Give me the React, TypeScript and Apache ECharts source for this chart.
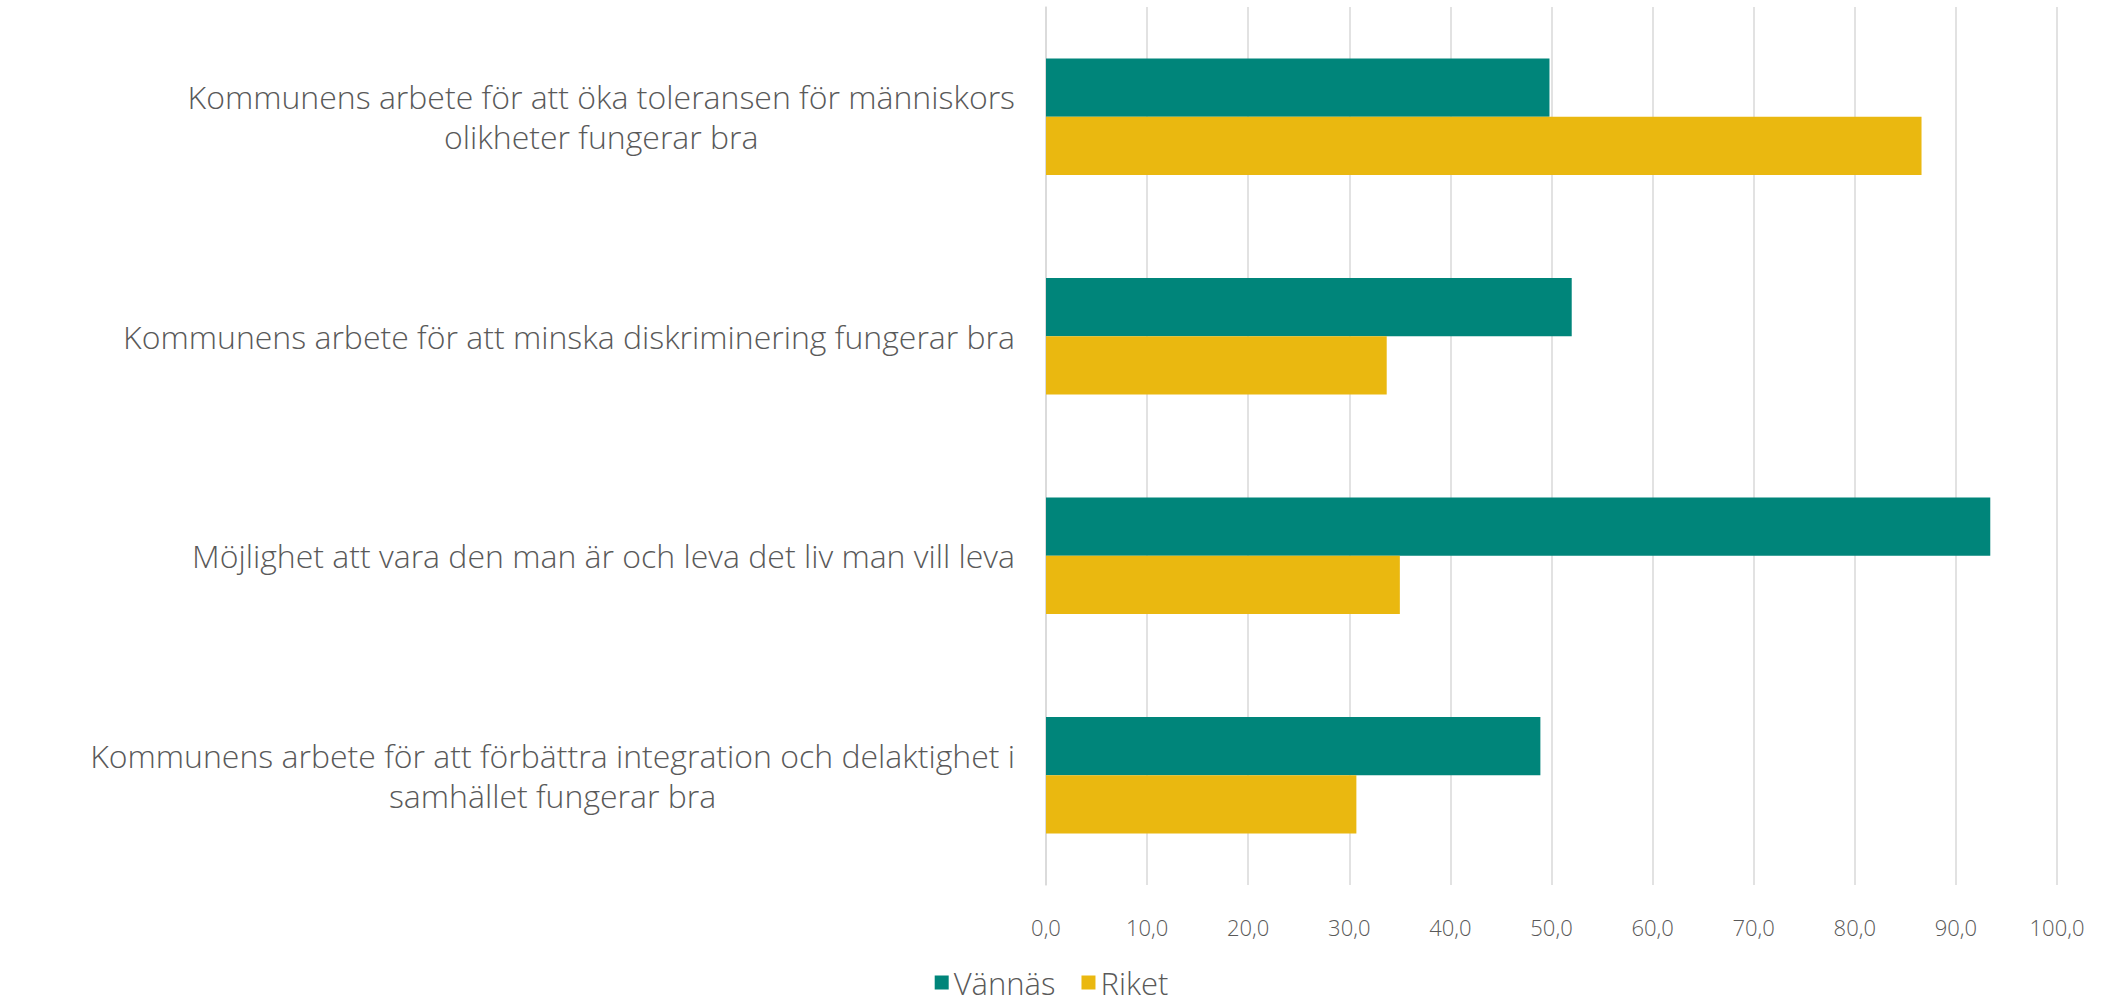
import React, { useEffect, useRef } from "react";
import * as echarts from "echarts";

const categories = [
  "Kommunens arbete för att öka toleransen för människors\nolikheter fungerar bra",
  "Kommunens arbete för att minska diskriminering fungerar bra",
  "Möjlighet att vara den man är och leva det liv man vill leva",
  "Kommunens arbete för att förbättra integration och delaktighet i\nsamhället fungerar bra",
];
const seriesNames = ["Vännäs", "Riket"];
const vannas = [49.8, 52.0, 93.4, 48.9];
const riket = [86.6, 33.7, 35.0, 30.7];

const FONT = "'Open Sans', Lato, sans-serif";
const TEXT = "#595959";
const GRID = "#D9D9D9";

export default function App() {
  const ref = useRef<HTMLDivElement>(null);
  useEffect(() => {
    if (!ref.current) return;
    const chart = echarts.init(ref.current, null, { renderer: "svg" });
    chart.setOption({
      animation: false,
      backgroundColor: "#ffffff",
      textStyle: { fontFamily: FONT },
      grid: { left: 1046, right: 46, top: 7, bottom: 120, containLabel: false },
      legend: {
        bottom: 2,
        left: "center",
        icon: "rect",
        itemWidth: 14,
        itemHeight: 14,
        itemGap: 26,
        textStyle: { fontFamily: FONT, fontSize: 31, color: TEXT, fontWeight: 300 },
        data: seriesNames,
      },
      xAxis: {
        type: "value",
        min: 0,
        max: 100,
        interval: 10,
        axisLine: { show: false },
        axisTick: { show: false },
        splitLine: { show: true, lineStyle: { color: GRID, width: 1.5 } },
        axisLabel: {
          margin: 31,
          fontFamily: FONT,
          fontSize: 22,
          fontWeight: 300,
          color: TEXT,
          formatter: (v: number) => v.toFixed(1).replace(".", ","),
        },
      },
      yAxis: {
        type: "category",
        inverse: true,
        data: categories,
        axisLine: { show: true, lineStyle: { color: GRID, width: 1.5 } },
        axisTick: { show: false },
        axisLabel: {
          margin: 31,
          align: "right",
          formatter: (v: string) =>
            v
              .split("\n")
              .map((l) => `{c|${l}}`)
              .join("\n"),
          rich: {
            c: {
              align: "center",
              fontFamily: FONT,
              fontSize: 32,
              fontWeight: 300,
              lineHeight: 40,
              color: TEXT,
            },
          },
        },
      },
      series: [
        {
          name: seriesNames[0],
          type: "bar",
          data: vannas,
          itemStyle: { color: "#00857A" },
          barGap: "0%",
          barCategoryGap: "47%",
        },
        {
          name: seriesNames[1],
          type: "bar",
          data: riket,
          itemStyle: { color: "#EAB810" },
          barGap: "0%",
          barCategoryGap: "47%",
        },
      ],
    });
    return () => chart.dispose();
  }, []);
  return (
    <div
      ref={ref}
      style={{ position: "fixed", left: 0, top: 0, width: 2103, height: 1005 }}
    />
  );
}
